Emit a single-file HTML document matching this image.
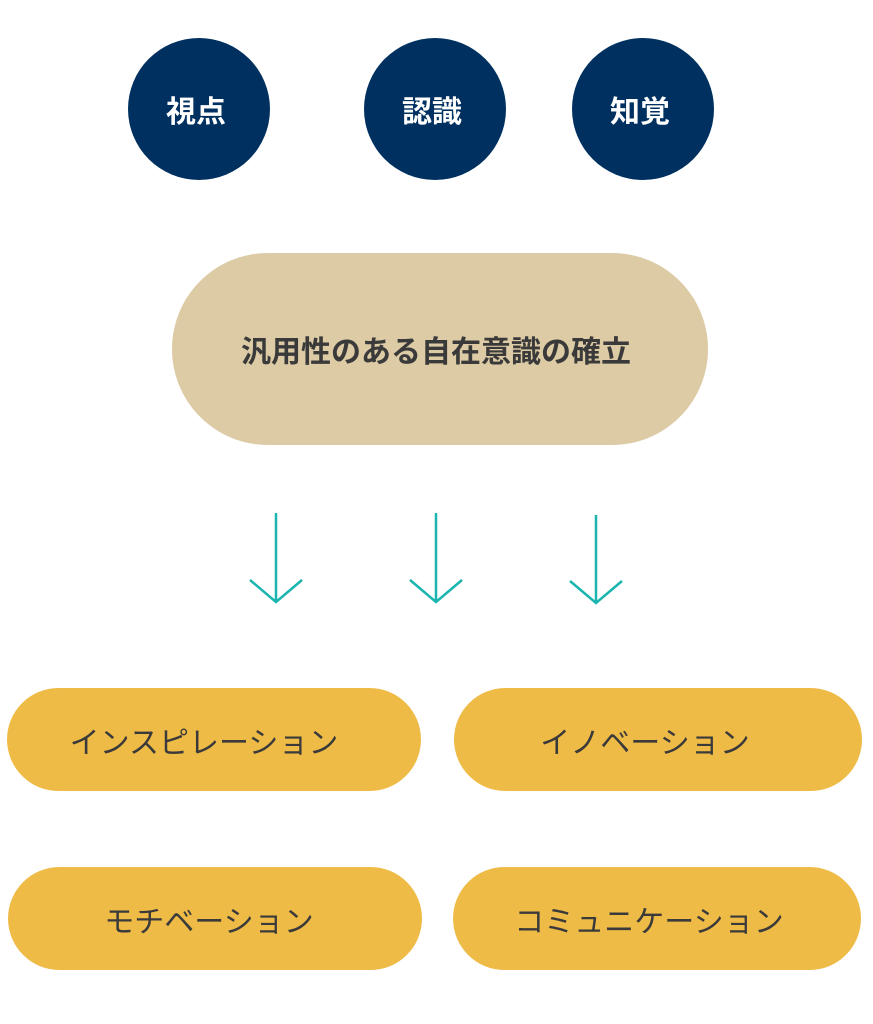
<!DOCTYPE html>
<html><head><meta charset="utf-8"><style>
body{margin:0;width:873px;height:1024px;background:#fff;position:relative;overflow:hidden;font-family:"Liberation Sans","Noto Sans CJK JP",sans-serif}
.c{position:absolute;width:142px;height:142px;border-radius:50%;background:#003060;color:#fff;font-weight:bold;font-size:30px;display:flex;align-items:center;justify-content:center;box-sizing:border-box;padding-right:6px}
.p{position:absolute;display:flex;align-items:center;justify-content:center;color:#3a3a3a;font-size:30px;box-sizing:border-box}
.y{background:#efbb47;border-radius:52px;height:103px}
</style></head><body>
<div class="c" style="left:128px;top:38px">視点</div>
<div class="c" style="left:364px;top:38px">認識</div>
<div class="c" style="left:572px;top:38px">知覚</div>
<div class="p" style="left:172px;top:253px;width:536px;height:192px;border-radius:96px;background:#dccba5;font-weight:bold;font-size:30px;padding-right:8px">汎用性のある自在意識の確立</div>
<svg style="position:absolute;left:0;top:0" width="873" height="1024">
<g stroke="#1bb5b0" stroke-width="2.5" fill="none">
<path d="M276 513V602M250 580L276 602L302 580"/>
<path d="M436 513V602M410 580L436 602L462 580"/>
<path d="M596 515V603M570 581L596 603L622 581"/>
</g></svg>
<div class="p y" style="left:7px;top:688px;width:414px;padding-right:20px">インスピレーション</div>
<div class="p y" style="left:454px;top:688px;width:408px;padding-right:26px">イノベーション</div>
<div class="p y" style="left:8px;top:867px;width:414px;padding-right:12px">モチベーション</div>
<div class="p y" style="left:453px;top:867px;width:408px;padding-right:16px">コミュニケーション</div>
</body></html>
